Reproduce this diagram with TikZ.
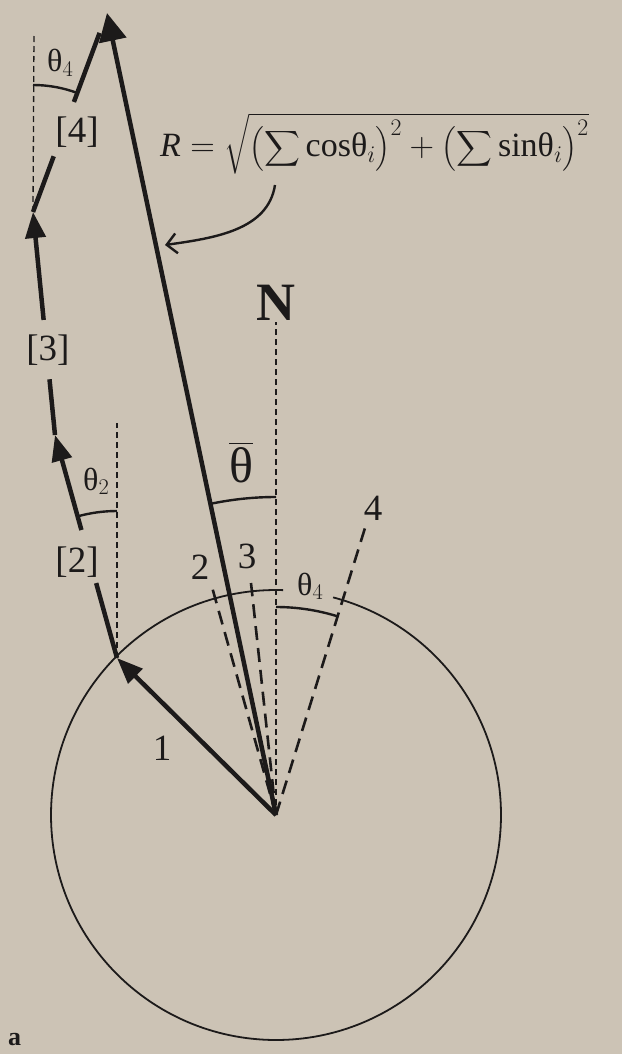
\RequirePackage{fix-cm}
\documentclass[tikz,border=0pt]{standalone}
\usepackage{amsmath}
\usepackage{fontspec}
\setmainfont{Liberation Serif}
\usetikzlibrary{arrows.meta,calc}
\definecolor{paper}{RGB}{204,195,181}
\definecolor{ink}{RGB}{28,26,26}
\begin{document}
\begin{tikzpicture}[x=1pt,y=1pt,
  vec/.style={line width=4.5pt, draw=ink},
  tri/.style={-{Triangle[length=26pt,width=20pt]}},
  thindash/.style={draw=ink, line width=1.3pt, dash pattern=on 6pt off 4pt},
  unitdash/.style={draw=ink, line width=2.6pt, dash pattern=on 14pt off 8pt},
  anglearc/.style={draw=ink, line width=2.4pt},
  lbl/.style={text=ink, font=\fontsize{37}{39}\selectfont, inner sep=0pt},
  thlbl/.style={text=ink, font=\fontsize{32}{34}\selectfont, inner sep=0pt, anchor=base west},
]
\fill[paper] (0,0) rectangle (622,-1054);
\useasboundingbox (0,0) rectangle (622,-1054);

% points
\coordinate (O) at (276,-815);
\coordinate (P1) at (117,-658);
\coordinate (P2) at (55,-435);
\coordinate (P3) at (33,-212);
\coordinate (P4) at (107,-13);
\coordinate (V2) at (117,-423);
\coordinate (V4) at (34,-33);
\coordinate (VN) at (276,-322);
\coordinate (D2) at (212,-587);
\coordinate (D3) at (251,-583);
\coordinate (D4) at (365,-528);
\coordinate (cs) at (275,-185);
\coordinate (ce) at (165,-245);

% circle with gap for theta_4 label
\draw[draw=ink, line width=1.8pt] (O) ++(88.2:225pt) arc[start angle=88.2, end angle=435.3, radius=225pt];

% reference verticals
\draw[thindash] (P1) -- (V2);
\draw[thindash] (P3) -- (V4);
\draw[thindash] (O) -- (VN);

% unit vectors 2,3,4 from centre
\draw[unitdash] (O) -- (D2);
\draw[unitdash] (O) -- (D3);
\draw[unitdash] (O) -- (D4);

% angle arcs
\draw[anglearc] (P1) ++(90:147pt) arc[start angle=90, end angle=105.5, radius=147pt];
\draw[anglearc] (P3) ++(90:127pt) arc[start angle=90, end angle=69.6, radius=127pt];
\draw[anglearc] (O) ++(90:318pt) arc[start angle=90, end angle=101.9, radius=318pt];
\draw[anglearc] (O) ++(90:208pt) arc[start angle=90, end angle=72.8, radius=208pt];

% vectors
\draw[vec,tri] (O) -- (P1);
\draw[vec] (P1) -- ($(P1)!0.336!(P2)$);
\draw[vec,tri] ($(P1)!0.574!(P2)$) -- (P2);
\draw[vec] (P2) -- ($(P2)!0.25!(P3)$);
\draw[vec,tri] ($(P2)!0.516!(P3)$) -- (P3);
\draw[vec] (P3) -- ($(P3)!0.28!(P4)$);
\draw[vec] ($(P3)!0.553!(P4)$) -- ($(P3)!0.9!(P4)$);
\draw[vec,-{Triangle[length=28pt,width=27pt]}] (O) -- (P4);

% labels
\node[lbl] (l1) at (162,-748) {1};
\node[lbl] (l2) at (200,-567) {2};
\node[lbl] (l3) at (247,-556) {3};
\node[lbl] (l4) at (373,-508) {4};
\node[lbl] (b2) at (77,-562) {[2]};
\node[lbl] (b3) at (48,-350) {[3]};
\node[lbl] (b4) at (77,-132) {[4]};
\node[thlbl] (t2) at (83,-490) {θ$_{2}$};
\node[thlbl] (t4a) at (47,-72) {θ$_{4}$};
\node[thlbl] (t4b) at (297,-595) {θ$_{4}$};
\node[text=ink, inner sep=0pt, anchor=base, font=\fontsize{50}{52}\selectfont] (tbar) at (241,-482) {$\overline{\mbox{θ}}$};
\node[text=ink, inner sep=0pt, anchor=base, font=\bfseries\fontsize{54}{56}\selectfont] (N) at (276,-320) {N};
\node[text=ink, inner sep=0pt, anchor=base west, font=\bfseries\fontsize{26}{28}\selectfont] (a) at (8,-1045) {a};

% formula
\node[text=ink, inner sep=0pt, anchor=base west, font=\fontsize{34}{36}\selectfont] (F) at (160,-157)
  {$\mbox{\itshape R}=\sqrt{\left(\displaystyle\sum\mbox{cosθ}_i\right)^{2}+\left(\displaystyle\sum\mbox{sinθ}_i\right)^{2}}$};

% pointer from formula to resultant
\draw[draw=ink, line width=2.4pt, -{Straight Barb[length=10pt,width=20pt]}] (cs) .. controls (268,-230) and (215,-238) .. (ce);
\end{tikzpicture}
\end{document}
